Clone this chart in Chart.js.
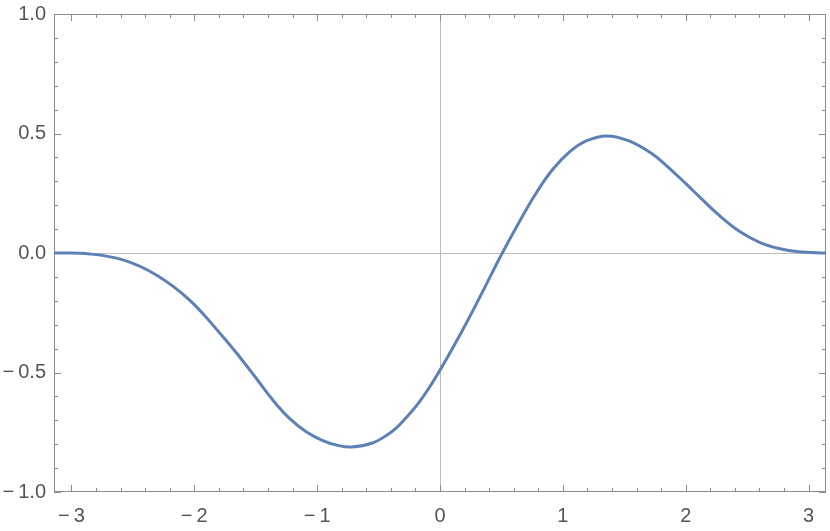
<!DOCTYPE html>
<html>
<head>
<meta charset="utf-8">
<script src="https://cdn.jsdelivr.net/npm/chart.js@4"></script>
<style>
  html, body { margin: 0; padding: 0; background: #fff; }
  #wrap { width: 830px; height: 531px; }
</style>
</head>
<body>
<div id="wrap"><canvas id="plot" width="830" height="531"></canvas></div>
<script>
// values
const xValues = [-3.1416, -2.851, -2.58, -2.309, -2.038, -1.767, -1.632, -1.496, -1.361, -1.225,
  -1.089, -0.954, -0.84, -0.72, -0.55, -0.412, -0.331, -0.168, 0, 0.181,
  0.319, 0.507, 0.645, 0.783, 0.913, 1.052, 1.19, 1.36, 1.539, 1.726,
  1.865, 2.003, 2.108, 2.271, 2.433, 2.596, 2.759, 2.921, 3.1416];
const yValues = [0, -0.004, -0.029, -0.092, -0.197, -0.35, -0.434, -0.524, -0.615, -0.692,
  -0.748, -0.785, -0.804, -0.812, -0.795, -0.755, -0.72, -0.623, -0.49, -0.325,
  -0.19, 0, 0.13, 0.251, 0.347, 0.422, 0.469, 0.49, 0.469, 0.415,
  0.355, 0.289, 0.237, 0.158, 0.092, 0.046, 0.019, 0.005, 0];
const xTickValues = [-3, -2, -1, 0, 1, 2, 3];
const yTickValues = [-1, -0.5, 0, 0.5, 1];

const points = xValues.map((x, i) => ({ x: x, y: yValues[i] }));

function fmt(v, digits) {
  const s = Math.abs(v).toFixed(digits);
  return v < 0 ? '\u2212\u2009' + s : s;
}

const frameColor = '#8c8c8c';

const framePlugin = {
  id: 'frame',
  beforeDatasetsDraw(chart) {
    const { ctx, chartArea: a, scales: { x, y } } = chart;
    ctx.save();
    // thin axes through the origin
    ctx.strokeStyle = '#bdbdbd';
    ctx.lineWidth = 1;
    const x0 = Math.round(x.getPixelForValue(0)) + 0.5;
    const y0 = Math.round(y.getPixelForValue(0)) + 0.5;
    ctx.beginPath();
    ctx.moveTo(x0, a.top); ctx.lineTo(x0, a.bottom);
    ctx.moveTo(a.left, y0); ctx.lineTo(a.right, y0);
    ctx.stroke();

    // frame
    ctx.strokeStyle = frameColor;
    ctx.strokeRect(a.left + 0.5, a.top + 0.5, a.right - a.left - 1, a.bottom - a.top - 1);

    // inward ticks on all four sides
    ctx.beginPath();
    for (let i = -16; i <= 16; i++) {
      const v = i * 0.2;
      if (v < x.min || v > x.max) continue;
      const len = (i % 5 === 0) ? 7 : 4;
      const px = Math.round(x.getPixelForValue(v)) + 0.5;
      ctx.moveTo(px, a.bottom); ctx.lineTo(px, a.bottom - len);
      ctx.moveTo(px, a.top); ctx.lineTo(px, a.top + len);
    }
    for (let i = -10; i <= 10; i++) {
      const v = i * 0.1;
      const len = (i % 5 === 0) ? 7 : 4;
      const py = Math.round(y.getPixelForValue(v)) + 0.5;
      ctx.moveTo(a.left, py); ctx.lineTo(a.left + len, py);
      ctx.moveTo(a.right, py); ctx.lineTo(a.right - len, py);
    }
    ctx.stroke();
    ctx.restore();
  }
};

new Chart(document.getElementById('plot').getContext('2d'), {
  type: 'line',
  data: {
    datasets: [{
      data: points,
      borderColor: '#5e81b5',
      borderWidth: 3,
      pointRadius: 0,
      fill: false,
      tension: 0.4
    }]
  },
  options: {
    responsive: false,
    animation: false,
    layout: { padding: { top: 14, right: 4, left: 0, bottom: 0 } },
    plugins: { legend: { display: false }, tooltip: { enabled: false } },
    scales: {
      x: {
        type: 'linear',
        min: -Math.PI,
        max: Math.PI,
        afterBuildTicks: s => { s.ticks = xTickValues.map(v => ({ value: v })); },
        afterFit: s => { s.height = 39; s.paddingLeft = 0; s.paddingRight = 0; },
        grid: { display: false, drawTicks: false },
        border: { display: false },
        ticks: {
          callback: v => fmt(v, 0),
          color: '#555',
          font: { family: 'Liberation Sans', size: 20 },
          padding: 12,
          maxRotation: 0,
          autoSkip: false
        }
      },
      y: {
        min: -1,
        max: 1,
        afterBuildTicks: s => { s.ticks = yTickValues.map(v => ({ value: v })); },
        afterFit: s => { s.width = 54; s.paddingTop = 0; s.paddingBottom = 0; },
        grid: { display: false, drawTicks: false },
        border: { display: false },
        ticks: {
          callback: v => fmt(v, 1),
          color: '#555',
          font: { family: 'Liberation Sans', size: 20 },
          padding: 8
        }
      }
    }
  },
  plugins: [framePlugin]
});
</script>
</body>
</html>
